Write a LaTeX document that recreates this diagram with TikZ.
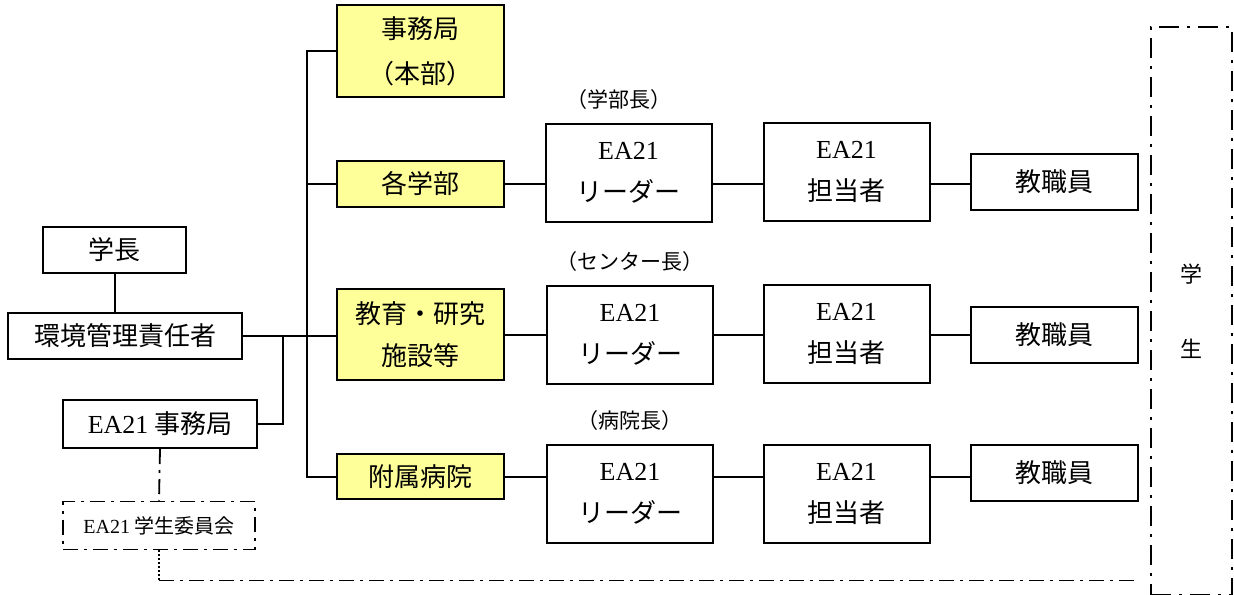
\documentclass[tikz,border=0pt]{standalone}
\usepackage{fontspec}
\setmainfont{Liberation Serif}
\newfontfamily\jpfont{Noto Sans CJK JP}
\usepackage{tikz}
\usetikzlibrary{positioning,calc}
\definecolor{unitfill}{HTML}{FFFF99}
\tikzstyle{box} = [rectangle, draw=black, line width=1pt, inner sep=0pt, text centered, align=center, font=\jpfont\fontsize{13}{21}\selectfont]
\tikzstyle{unit} = [box, fill=unitfill, minimum width=83.5pt]
\tikzstyle{member} = [box, minimum width=83pt, minimum height=49pt]
\tikzstyle{staff} = [box, minimum width=83.5pt, minimum height=28pt]
\tikzstyle{note} = [font=\jpfont\fontsize{10.5}{12}\selectfont]
\tikzstyle{line} = [line width=1pt]
\tikzstyle{chainline} = [line width=0.9pt, dash pattern=on 7.5pt off 3pt on 1.5pt off 3pt]

\begin{document}
\begin{tikzpicture}[x=0.5pt,y=-0.5pt]
\useasboundingbox (0,0) rectangle (1234,594);
% left side
\node (President) [box, minimum width=71.5pt, minimum height=23pt] at (114.5,250) {学長};
\node (EnvManager) [box, minimum width=117pt, minimum height=23pt] at (125,336) {環境管理責任者};
\node (EAOffice) [box, minimum width=97pt, minimum height=24pt] at (160,424) {{\rmfamily EA21} 事務局};
\node (Committee) [box, chainline, minimum width=96pt, minimum height=24pt, font=\jpfont\fontsize{10}{12}\selectfont] at (159,525.5) {{\rmfamily EA21} 学生委員会};
% units
\node (Secretariat) [unit, minimum height=46pt, font=\jpfont\fontsize{13}{22.5}\selectfont] at (420.5,51) {事務局\\（本部）};
\node (Faculties) [unit, minimum height=23pt] at (420.5,184) {各学部};
\node (Facilities) [unit, minimum height=45.5pt] at (420.5,334.5) {教育・研究\\施設等};
\node (Hospital) [unit, minimum height=22.5pt] at (420.5,476.5) {附属病院};
% leaders and staff
\node (Leader1) [member] at (628.5,172.5) {{\rmfamily EA21}\\リーダー};
\node (Leader2) [member] at (630,335) {{\rmfamily EA21}\\リーダー};
\node (Leader3) [member] at (630,493.5) {{\rmfamily EA21}\\リーダー};
\node (Dean) [note, above=3pt of Leader1, xshift=-5pt] {（学部長）};
\node (Director) [note, above=3pt of Leader2] {（センター長）};
\node (Chief) [note, above=3pt of Leader3] {（病院長）};
\node (Worker1) [member] at (846.5,172) {{\rmfamily EA21}\\担当者};
\node (Worker2) [member] at (846.5,333.5) {{\rmfamily EA21}\\担当者};
\node (Worker3) [member] at (846.5,493.5) {{\rmfamily EA21}\\担当者};
\node (Staff1) [staff] at (1054.5,181.5) {教職員};
\node (Staff2) [staff] at (1054.5,335) {教職員};
\node (Staff3) [staff] at (1054.5,472.5) {教職員};
\node (Students) [box, line width=1.3pt, dash pattern=on 10pt off 4pt on 1.5pt off 4pt, minimum width=40.5pt, minimum height=284pt, font=\jpfont\fontsize{11}{37.5}\selectfont] at (1191.5,311) {学\\生};

% connectors
\coordinate (TrunkTop) at (307,51);
\coordinate (Branch) at (283,336);
\draw[line] (President.south) -- (President.south |- EnvManager.north);
\draw[line] (EnvManager.east) -- (EnvManager.east -| Facilities.west);
\draw[line] (EAOffice.east) -| (Branch);
\draw[line] (Secretariat.west) -- (TrunkTop) |- (Hospital.west);
\draw[line] (Faculties.west) -- (TrunkTop |- Faculties.west);

\draw[line] (Faculties.east) -- (Faculties.east -| Leader1.west);
\draw[line] (Leader1.east |- Faculties.east) -- (Worker1.west |- Faculties.east);
\draw[line] (Worker1.east |- Faculties.east) -- (Staff1.west |- Faculties.east);
\draw[line] (Facilities.east) -- (Facilities.east -| Leader2.west);
\draw[line] (Leader2.east |- Facilities.east) -- (Worker2.west |- Facilities.east);
\draw[line] (Worker2.east |- Facilities.east) -- (Staff2.west |- Facilities.east);
\draw[line] (Hospital.east) -- (Hospital.east -| Leader3.west);
\draw[line] (Leader3.east |- Hospital.east) -- (Worker3.west |- Hospital.east);
\draw[line] (Worker3.east |- Hospital.east) -- (Staff3.west |- Hospital.east);

% students link
\draw[chainline] (EAOffice.south) -- (Committee.north);
\draw[line, line width=0.8pt, dash pattern=on 1pt off 1pt] (Committee.south) -- ++(0,30) coordinate (Corner);
\draw[chainline, shorten >=5.5pt] (Corner) -- (Corner -| Students.west);
\end{tikzpicture}
\end{document}
